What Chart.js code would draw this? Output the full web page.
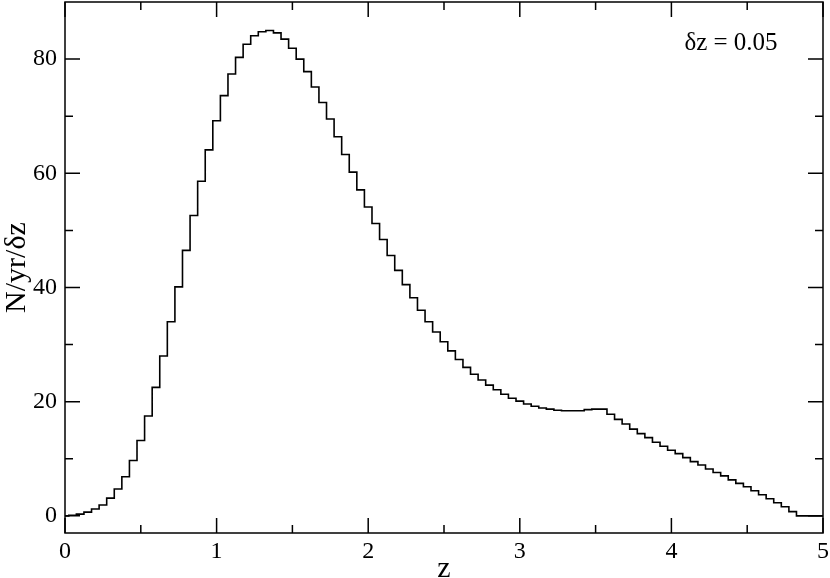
<!DOCTYPE html>
<html>
<head>
<meta charset="utf-8">
<script src="https://cdn.jsdelivr.net/npm/chart.js@4"></script>
<style>
  html, body { margin: 0; padding: 0; background: #fff; }
  #wrap { width: 830px; height: 578px; }
</style>
</head>
<body>
<div id="wrap"><canvas id="zChart"></canvas></div>
<script>
// bin centres (z) and counts per bin
const zBins = [
  0.00, 0.05, 0.10, 0.15, 0.20, 0.25, 0.30, 0.35, 0.40, 0.45,
  0.50, 0.55, 0.60, 0.65, 0.70, 0.75, 0.80, 0.85, 0.90, 0.95,
  1.00, 1.05, 1.10, 1.15, 1.20, 1.25, 1.30, 1.35, 1.40, 1.45,
  1.50, 1.55, 1.60, 1.65, 1.70, 1.75, 1.80, 1.85, 1.90, 1.95,
  2.00, 2.05, 2.10, 2.15, 2.20, 2.25, 2.30, 2.35, 2.40, 2.45,
  2.50, 2.55, 2.60, 2.65, 2.70, 2.75, 2.80, 2.85, 2.90, 2.95,
  3.00, 3.05, 3.10, 3.15, 3.20, 3.25, 3.30, 3.35, 3.40, 3.45,
  3.50, 3.55, 3.60, 3.65, 3.70, 3.75, 3.80, 3.85, 3.90, 3.95,
  4.00, 4.05, 4.10, 4.15, 4.20, 4.25, 4.30, 4.35, 4.40, 4.45,
  4.50, 4.55, 4.60, 4.65, 4.70, 4.75, 4.80, 4.85, 4.90, 4.95,
  5.00
];
const counts = [
  0.0, 0.1, 0.3, 0.65, 1.2, 1.9, 3.1, 4.7, 6.85, 9.7,
  13.2, 17.5, 22.5, 28.0, 34.0, 40.1, 46.5, 52.6, 58.6, 64.1,
  69.2, 73.6, 77.4, 80.3, 82.6, 84.1, 84.8, 85.0, 84.6, 83.5,
  81.9, 80.0, 77.8, 75.1, 72.4, 69.5, 66.4, 63.3, 60.2, 57.1,
  54.1, 51.2, 48.4, 45.6, 43.0, 40.5, 38.2, 36.0, 34.0, 32.2,
  30.5, 28.9, 27.4, 26.0, 24.8, 23.8, 22.9, 22.1, 21.3, 20.6,
  20.1, 19.6, 19.2, 18.9, 18.7, 18.5, 18.4, 18.4, 18.4, 18.6,
  18.7, 18.7, 17.8, 16.9, 16.1, 15.2, 14.4, 13.7, 12.9, 12.2,
  11.5, 10.9, 10.2, 9.5, 8.9, 8.2, 7.6, 7.0, 6.3, 5.7,
  5.1, 4.4, 3.7, 3.0, 2.3, 1.6, 0.75, 0.0, 0.0, 0.0,
  0.0
];

const xMajorTicks = [0, 1, 2, 3, 4, 5];
const xMinorTicks = [0.5, 1.5, 2.5, 3.5, 4.5];
const yMajorTicks = [0, 20, 40, 60, 80];
const yMinorTicks = [10, 30, 50, 70];
const binLabel = 'δz = 0.05';

const serif = "'Liberation Serif', 'Times New Roman', Times, serif";

// frame with inward ticks on all four sides, plus the bin-width note
const framePlugin = {
  id: 'frame',
  afterDatasetsDraw(chart) {
    const { ctx, chartArea: a, scales } = chart;
    const xs = scales.x, ys = scales.y;
    ctx.save();
    ctx.strokeStyle = '#000';
    ctx.lineWidth = 1.5;
    ctx.strokeRect(a.left, a.top, a.right - a.left, a.bottom - a.top);
    ctx.beginPath();
    const xt = (v, len) => {
      const px = xs.getPixelForValue(v);
      ctx.moveTo(px, a.bottom); ctx.lineTo(px, a.bottom - len);
      ctx.moveTo(px, a.top); ctx.lineTo(px, a.top + len);
    };
    const yt = (v, len) => {
      const py = ys.getPixelForValue(v);
      ctx.moveTo(a.left, py); ctx.lineTo(a.left + len, py);
      ctx.moveTo(a.right, py); ctx.lineTo(a.right - len, py);
    };
    xMajorTicks.forEach(v => xt(v, 15));
    xMinorTicks.forEach(v => xt(v, 8));
    yMajorTicks.forEach(v => yt(v, 15));
    yMinorTicks.forEach(v => yt(v, 8));
    ctx.stroke();

    ctx.fillStyle = '#000';
    ctx.font = '25px ' + serif;
    ctx.textAlign = 'center';
    ctx.textBaseline = 'alphabetic';
    ctx.fillText(binLabel, a.right - 92, a.top + 48);
    ctx.restore();
  }
};

const points = zBins.map((z, i) => ({ x: z, y: counts[i] }));

new Chart(document.getElementById('zChart'), {
  type: 'line',
  data: {
    datasets: [{
      data: points,
      stepped: 'middle',
      borderColor: '#000',
      borderWidth: 1.6,
      pointRadius: 0,
      fill: false
    }]
  },
  options: {
    responsive: true,
    maintainAspectRatio: false,
    animation: false,
    layout: { padding: { top: 2, right: 7, left: 0, bottom: 0 } },
    plugins: { legend: { display: false }, tooltip: { enabled: false } },
    scales: {
      x: {
        type: 'linear',
        min: 0, max: 5,
        grid: { display: false, drawTicks: false },
        border: { display: false },
        afterBuildTicks: s => { s.ticks = xMajorTicks.map(v => ({ value: v })); },
        afterFit: s => { s.height = 45; s.paddingLeft = 0; s.paddingRight = 0; },
        ticks: { color: '#000', padding: 4, font: { family: serif, size: 24 } },
        title: {
          display: true, text: 'z', color: '#000',
          font: { family: serif, size: 30 }, padding: { top: 0, bottom: -9 }
        }
      },
      y: {
        min: -3, max: 90,
        grid: { display: false, drawTicks: false },
        border: { display: false },
        afterBuildTicks: s => { s.ticks = yMajorTicks.map(v => ({ value: v })); },
        afterFit: s => { s.width = 65; s.paddingTop = 0; s.paddingBottom = 0; },
        ticks: { color: '#000', padding: 8, font: { family: serif, size: 24 } },
        title: {
          display: true, text: 'N/yr/δz', color: '#000',
          font: { family: serif, size: 30 }, padding: -1
        }
      }
    }
  },
  plugins: [framePlugin]
});
</script>
</body>
</html>
